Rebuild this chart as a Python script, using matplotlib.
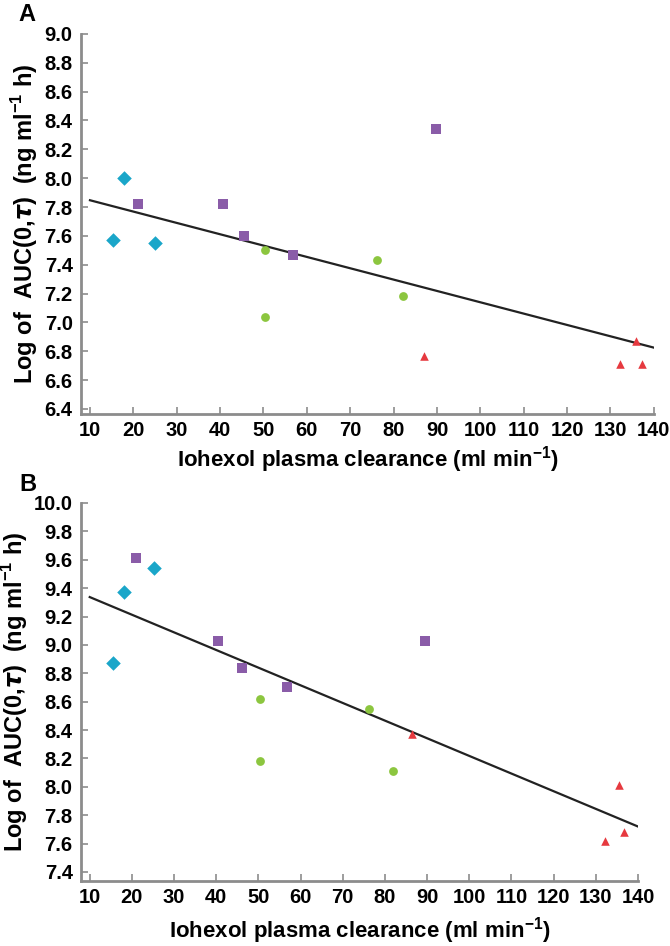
import matplotlib.pyplot as plt

plt.rcParams['font.family'] = ['Liberation Sans', 'DejaVu Sans']
plt.rcParams['font.weight'] = 'bold'
plt.rcParams['mathtext.fontset'] = 'custom'
plt.rcParams['mathtext.rm'] = 'Liberation Sans:bold'
plt.rcParams['mathtext.it'] = 'DejaVu Sans:bold:italic'
plt.rcParams['mathtext.bf'] = 'Liberation Sans:bold'

# panel A: log AUC(0,tau) of the first analyte
a_cyan_x = [15.4, 17.9, 25.0]
a_cyan_y = [7.57, 8.00, 7.55]
a_purple_x = [21.0, 40.7, 45.4, 56.9, 89.7]
a_purple_y = [7.82, 7.82, 7.60, 7.47, 8.34]
a_green_x = [50.3, 50.3, 76.2, 82.2]
a_green_y = [7.50, 7.04, 7.43, 7.18]
a_red_x = [87.0, 132.3, 135.9, 137.3]
a_red_y = [6.77, 6.71, 6.87, 6.71]
a_fit_x = [10, 140]
a_fit_y = [7.847, 6.825]

# panel B
b_cyan_x = [15.4, 18.1, 25.2]
b_cyan_y = [8.87, 9.37, 9.54]
b_purple_x = [20.9, 40.3, 46.0, 56.8, 89.5]
b_purple_y = [9.61, 9.03, 8.84, 8.70, 9.03]
b_green_x = [50.3, 50.3, 76.3, 81.9]
b_green_y = [8.62, 8.18, 8.55, 8.11]
b_red_x = [86.5, 132.2, 135.5, 136.8]
b_red_y = [8.37, 7.62, 8.01, 7.68]
b_fit_x = [10, 140]
b_fit_y = [9.337, 7.72]

x_ticks = list(range(10, 141, 10))
a_yticks = [6.4, 6.6, 6.8, 7.0, 7.2, 7.4, 7.6, 7.8, 8.0, 8.2, 8.4, 8.6, 8.8, 9.0]
b_yticks = [7.4, 7.6, 7.8, 8.0, 8.2, 8.4, 8.6, 8.8, 9.0, 9.2, 9.4, 9.6, 9.8, 10.0]

ylabel = r'Log of  AUC(0,$\tau$)  (ng ml$^{-1}$ h)'
xlabel = r'Iohexol plasma clearance (ml min$^{-1}$)'

fig = plt.figure(figsize=(6.7, 9.46), dpi=100)
ax_a = fig.add_axes([0.1209, 0.5624, 0.855, 0.4017])
ax_b = fig.add_axes([0.1209, 0.0687, 0.8313, 0.3996])

panels = [
    (ax_a, 'A', a_cyan_x, a_cyan_y, a_purple_x, a_purple_y, a_green_x, a_green_y,
     a_red_x, a_red_y, a_fit_x, a_fit_y, a_yticks, (6.365, 9.0), 3),
    (ax_b, 'B', b_cyan_x, b_cyan_y, b_purple_x, b_purple_y, b_green_x, b_green_y,
     b_red_x, b_red_y, b_fit_x, b_fit_y, b_yticks, (7.336, 10.0), 6),
]

for (ax, letter, cx, cy, px, py, gx, gy, rx, ry, fx, fy, yt, ylim, xpad) in panels:
    ax.plot(fx, fy, color='#222222', lw=1.6, zorder=2)
    ax.scatter(cx, cy, marker='D', s=55, color='#1aa6c9', zorder=3, linewidths=0)
    ax.scatter(px, py, marker='s', s=50, color='#8a5ca8', zorder=3, linewidths=0)
    ax.scatter(gx, gy, marker='o', s=40, color='#8cc63f', zorder=3, linewidths=0)
    ax.scatter(rx, ry, marker='^', s=38, color='#e6393f', zorder=3, linewidths=0)

    ax.set_xlim(7.93, 140)
    ax.set_ylim(*ylim)
    ax.set_xticks(x_ticks)
    ax.set_xticklabels([str(v) for v in x_ticks], fontweight='bold')
    ax.set_yticks(yt)
    ax.set_yticklabels(['%.1f' % v for v in yt], fontweight='bold')

    for s in ['top', 'right']:
        ax.spines[s].set_visible(False)
    for s in ['left', 'bottom']:
        ax.spines[s].set_color('#8c8c8c')
        ax.spines[s].set_linewidth(2)
    ax.tick_params(direction='in', length=5, width=1.2, color='#8c8c8c',
                   labelsize=14.5, pad=5)
    ax.tick_params(axis='y', pad=6)

    ax.set_ylabel(ylabel, fontsize=17, fontweight='bold', labelpad=3)
    ax.set_xlabel(xlabel, fontsize=16, fontweight='bold', labelpad=xpad)
    ax.text(-0.11, 1.05, letter, transform=ax.transAxes, fontsize=17,
            fontweight='bold', ha='left', va='center')

fig.savefig('out.png', dpi=100)
